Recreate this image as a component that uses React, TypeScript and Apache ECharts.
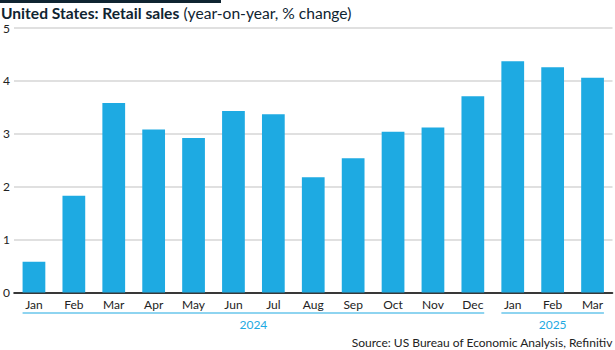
import React, { useEffect, useRef } from "react";
import * as echarts from "echarts";

const months = ["Jan", "Feb", "Mar", "Apr", "May", "Jun", "Jul", "Aug", "Sep", "Oct", "Nov", "Dec", "Jan", "Feb", "Mar"];
const values = [0.58, 1.83, 3.58, 3.08, 2.92, 3.43, 3.37, 2.18, 2.54, 3.04, 3.12, 3.71, 4.37, 4.26, 4.06];
const yearGroups = [
  { label: "2024", start: 0, end: 11 },
  { label: "2025", start: 12, end: 14 },
];
const yTicks = [0, 1, 2, 3, 4, 5];

const FONT = "Lato";
const BLUE = "#1eaae2";

export default function App() {
  const ref = useRef<HTMLDivElement>(null);
  useEffect(() => {
    if (!ref.current) return;
    const chart = echarts.init(ref.current, null, { renderer: "svg" });
    chart.setOption({
      animation: false,
      textStyle: { fontFamily: FONT },
      grid: { left: 12.5, right: 2.5, top: 28, bottom: 57.5 },
      title: {
        left: 1,
        top: 4,
        padding: 0,
        text: "{b|United States: Retail sales} {r|(year-on-year, % change)}",
        textStyle: {
          rich: {
            b: { fontFamily: FONT, fontWeight: "bold", fontSize: 15.6, lineHeight: 16, color: "#0f2431" },
            r: { fontFamily: FONT, fontWeight: "normal", fontSize: 15.6, lineHeight: 16, color: "#0f2431" },
          },
        },
      },
      xAxis: {
        type: "category",
        data: months,
        axisTick: { show: false },
        axisLine: { show: true, lineStyle: { color: "#000", width: 1.6 } },
        axisLabel: { color: "#222", fontSize: 12, margin: 6, fontFamily: FONT },
      },
      yAxis: {
        type: "value",
        min: yTicks[0],
        max: yTicks[yTicks.length - 1],
        interval: 1,
        axisLine: { show: false },
        axisTick: { show: false },
        axisLabel: { color: "#222", fontSize: 12, align: "left", margin: 11, verticalAlign: "middle", fontFamily: FONT, lineHeight: 12 },
        splitLine: { lineStyle: { color: "#d6d6d6", width: 1.5 } },
      },
      series: [
        {
          type: "bar",
          data: values,
          barWidth: "57%",
          itemStyle: { color: BLUE },
        },
      ],
    });

    const graphics: any[] = [
      { type: "rect", left: 0, top: 0, shape: { x: 0, y: 0, width: 221, height: 3 }, style: { fill: "#0f2431" } },
      {
        type: "text",
        right: 2,
        top: 336,
        style: { text: "Source: US Bureau of Economic Analysis, Refinitiv", fill: "#222", font: `12px ${FONT}` },
      },
    ];
    const bandHalf = (() => {
      const a = chart.convertToPixel({ xAxisIndex: 0 }, 0) as number;
      const b = chart.convertToPixel({ xAxisIndex: 0 }, 1) as number;
      return ((b - a) * 0.57) / 2;
    })();
    yearGroups.forEach((g) => {
      const x1 = (chart.convertToPixel({ xAxisIndex: 0 }, g.start) as number) - bandHalf;
      const x2 = (chart.convertToPixel({ xAxisIndex: 0 }, g.end) as number) + bandHalf;
      graphics.push({
        type: "line",
        shape: { x1, y1: 313, x2, y2: 313 },
        style: { stroke: BLUE, lineWidth: 1.2 },
      });
      graphics.push({
        type: "text",
        x: (x1 + x2) / 2,
        y: 324,
        style: { text: g.label, fill: BLUE, font: `12px ${FONT}`, align: "center", verticalAlign: "middle" },
      });
    });
    chart.setOption({ graphic: graphics });
    return () => chart.dispose();
  }, []);
  return <div ref={ref} style={{ width: 615, height: 350, position: "absolute", left: 0, top: 0 }} />;
}
